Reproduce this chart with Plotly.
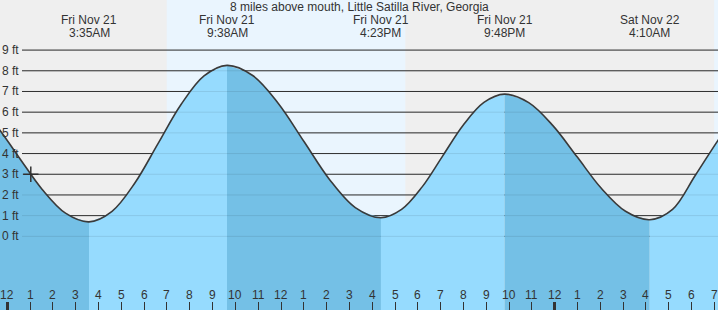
import plotly.graph_objects as go

# ---------------- data ----------------
title_text = "8 miles above mouth, Little Satilla River, Georgia"

# hours since midnight Fri Nov 21 and tide height (ft)
tide_hours = [-1.57, -0.539, 0.491, 1.522, 2.552, 3.583,
              4.592, 5.6, 6.608, 7.617, 8.625, 9.633,
              10.758, 11.883, 13.008, 14.133, 15.258, 16.383,
              17.286, 18.189, 19.092, 19.994, 20.897, 21.8,
              22.861, 23.922, 24.983, 26.044, 27.106, 28.167,
              29.167, 30.167, 31.167, 32.167]
tide_ft = [6.58, 5.43, 3.85, 2.28, 1.12, 0.70,
           1.21, 2.59, 4.48, 6.37, 7.75, 8.26,
           7.77, 6.42, 4.58, 2.74, 1.39, 0.90,
           1.30, 2.39, 3.89, 5.38, 6.47, 6.87,
           6.46, 5.35, 3.84, 2.32, 1.21, 0.80,
           1.30, 2.95, 4.65, 6.20]

extreme_hours = [3.583, 9.633, 16.383, 21.8, 28.167]
extreme_kind = ["low", "high", "low", "high", "low"]
extreme_dates = ["Fri Nov 21", "Fri Nov 21", "Fri Nov 21", "Fri Nov 21", "Sat Nov 22"]
extreme_times = ["3:35AM", "9:38AM", "4:23PM", "9:48PM", "4:10AM"]

sunrise_hours = [6.99, 30.99]
sunset_hours = [17.45, 41.45]

hour_ticks = list(range(0, 32))
hour_labels = ["12", "1", "2", "3", "4", "5", "6", "7", "8", "9", "10", "11",
               "12", "1", "2", "3", "4", "5", "6", "7", "8", "9", "10", "11",
               "12", "1", "2", "3", "4", "5", "6", "7"]
midnight_ticks = [0, 24]

ft_ticks = [0, 1, 2, 3, 4, 5, 6, 7, 8, 9]
ft_labels = ["0 ft", "1 ft", "2 ft", "3 ft", "4 ft", "5 ft", "6 ft", "7 ft", "8 ft", "9 ft"]

now_hour = [1.03]
now_ft = [3.0]

# ---------------- style ----------------
W, H = 718, 310
X_RANGE = [-0.32, 31.16]
Y_RANGE = [-3.56, 11.42]
NIGHT = "#efefef"
DAY = "#eaf5fe"
FALL = "#74c0e6"
RISE = "#96dbfe"
INK = "#333333"
FONT = "Liberation Sans, Arial, sans-serif"

fig = go.Figure()

# water fill, split into rising / falling segments
bounds = [tide_hours[0]] + extreme_hours + [tide_hours[-1]]
for i in range(len(bounds) - 1):
    a, b = bounds[i], bounds[i + 1]
    xs = [h for h in tide_hours if a <= h <= b]
    ys = [v for h, v in zip(tide_hours, tide_ft) if a <= h <= b]
    if i < len(extreme_kind):
        falling = extreme_kind[i] == "low"
    else:
        falling = extreme_kind[-1] == "high"
    fig.add_trace(go.Scatter(x=[a, b], y=[Y_RANGE[0], Y_RANGE[0]], mode="lines",
                             line=dict(width=0), hoverinfo="skip", showlegend=False))
    fig.add_trace(go.Scatter(x=xs, y=ys, mode="lines", fill="tonexty",
                             fillcolor=FALL if falling else RISE,
                             line=dict(width=0, shape="spline"),
                             hoverinfo="skip", showlegend=False))

# tide curve
fig.add_trace(go.Scatter(x=tide_hours, y=tide_ft, mode="lines",
                         line=dict(color="#3a3a3a", width=1.6, shape="spline"),
                         showlegend=False))

# current-time marker
fig.add_trace(go.Scatter(x=now_hour, y=now_ft, mode="markers",
                         marker=dict(symbol="cross-thin", size=11,
                                     line=dict(color=INK, width=1.5)),
                         showlegend=False))

# dummy trace for the midnight tick axis
fig.add_trace(go.Scatter(x=[midnight_ticks[0]], y=[Y_RANGE[0]], xaxis="x2",
                         mode="lines", showlegend=False, hoverinfo="skip"))

shapes = []
for s, e in zip(sunrise_hours, sunset_hours):
    shapes.append(dict(type="rect", xref="x", yref="paper", x0=s, x1=e, y0=0, y1=1,
                       fillcolor=DAY, line=dict(width=0), layer="below"))
for v in ft_ticks:
    shapes.append(dict(type="line", xref="paper", yref="y", x0=22 / W, x1=1, y0=v, y1=v,
                       line=dict(color=INK, width=1), layer="below"))
    shapes.append(dict(type="line", xref="paper", yref="y", x0=22 / W, x1=1, y0=v, y1=v,
                       line=dict(color="rgba(0,0,0,0.09)", width=1), layer="above"))

txt = dict(showarrow=False, borderpad=0, borderwidth=0,
           font=dict(size=12, color=INK, family=FONT))
ann = []
ann.append(dict(text=title_text, xref="paper", yref="paper", x=359 / W, y=1 - 6.5 / H,
                xanchor="center", yanchor="middle", **txt))
for h, d, t in zip(extreme_hours, extreme_dates, extreme_times):
    ann.append(dict(text=d, xref="x", yref="paper", x=h, y=1 - 20 / H,
                    xanchor="center", yanchor="middle", **txt))
    ann.append(dict(text=t, xref="x", yref="paper", x=h, y=1 - 32.5 / H,
                    xanchor="center", yanchor="middle", **txt))
for v, lab in zip(ft_ticks, ft_labels):
    ann.append(dict(text=lab, xref="paper", yref="y", x=2 / W, y=v,
                    xanchor="left", yanchor="middle", **txt))
for h, lab in zip(hour_ticks, hour_labels):
    ann.append(dict(text=lab, xref="x", yref="paper", x=h, y=1 - 295 / H,
                    xanchor="center", yanchor="middle", **txt))

fig.update_layout(
    width=W, height=H,
    margin=dict(l=0, r=0, t=0, b=0),
    paper_bgcolor=NIGHT, plot_bgcolor=NIGHT,
    showlegend=False,
    xaxis=dict(range=X_RANGE, showgrid=False, zeroline=False, showline=False,
               tickvals=hour_ticks, ticks="inside", ticklen=8, tickwidth=1,
               tickcolor=INK, showticklabels=False, fixedrange=True),
    xaxis2=dict(range=X_RANGE, overlaying="x", anchor="y", side="bottom",
                showgrid=False, zeroline=False, showline=False,
                tickvals=midnight_ticks, ticks="inside", ticklen=8, tickwidth=3,
                tickcolor=INK, showticklabels=False),
    yaxis=dict(range=Y_RANGE, showgrid=False, zeroline=False, showline=False,
               showticklabels=False, ticks="", fixedrange=True),
    shapes=shapes,
    annotations=ann,
    font=dict(family=FONT),
)

fig.write_html("out.html")
